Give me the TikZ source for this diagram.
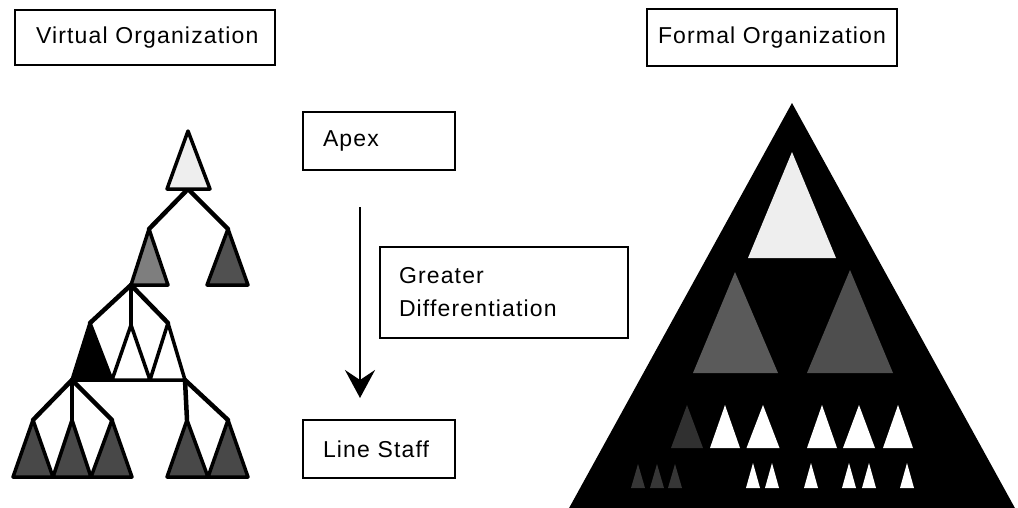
\documentclass[tikz,border=0pt]{standalone}
\usepackage{fontspec}
\setmainfont{Liberation Sans}[LetterSpace=5]
\usetikzlibrary{arrows.meta}
\definecolor{paleA}{HTML}{EEEEEE}
\definecolor{midA}{HTML}{7E7E7E}
\definecolor{darkA}{HTML}{505050}
\definecolor{darkB}{HTML}{484848}
\definecolor{darkC}{HTML}{5A5A5A}
\definecolor{darkD}{HTML}{4E4E4E}
\definecolor{dimA}{HTML}{303030}
\definecolor{dimB}{HTML}{363636}
\begin{document}
\begin{tikzpicture}[x=1pt,y=-1pt,
  lbl/.style={draw, line width=2.5pt, inner ysep=0pt, align=left,
              font=\fontsize{23}{33}\selectfont},
  branch/.style={line width=4.5pt, line cap=round, line join=round},
  tri/.style={draw, line width=3.5pt, line join=round},
  flow/.style={line width=2.5pt, -{Stealth[length=28pt,width=30pt,inset=10pt]}}]
\useasboundingbox (0,0) rectangle (1018,507);

% ---------- labels ----------
\node[lbl, minimum width=260pt, minimum height=55pt, inner xsep=21pt, text width=218pt]
  (virt) at (145,37.5) {Virtual Organization};
\node[lbl, minimum width=250pt, minimum height=57pt, inner xsep=8pt]
  (formal) at (772,37.5) {Formal Organization};
\node[lbl, minimum width=152pt, minimum height=58pt, inner xsep=20pt, text width=112pt]
  (apex) at (379,141) {Apex};
\node[lbl, minimum width=248pt, minimum height=91pt, inner xsep=19pt, text width=210pt]
  (diff) at (504,292.5) {Greater\\Differentiation};
\node[lbl, minimum width=152pt, minimum height=58pt, inner xsep=20pt, text width=112pt]
  (line) at (379,449) {Line Staff};

% ---------- downward arrow ----------
\coordinate (arrS) at (360,207);
\coordinate (arrE) at (360,398);
\draw[flow] (arrS) -- (arrE);

% ---------- virtual organization tree ----------
\coordinate (j0) at (188,189);
\coordinate (a2l) at (149,229);
\coordinate (a2r) at (228,229);
\coordinate (j1) at (131,285);
\coordinate (a3a) at (90,323);
\coordinate (a3b) at (131,325);
\coordinate (a3c) at (168,323);
\coordinate (j2) at (72,380);
\coordinate (j3) at (185,380);
\coordinate (a4a) at (33,420);
\coordinate (a4b) at (72,420);
\coordinate (a4c) at (112,420);
\coordinate (a4d) at (187,420);
\coordinate (a4e) at (228,420);

\draw[branch] (a2l) -- (j0) -- (a2r);
\draw[branch] (j1) -- (a3a);
\draw[branch] (j1) -- (a3b);
\draw[branch] (j1) -- (a3c);
\draw[branch] (j2) -- (a4a);
\draw[branch] (j2) -- (a4b);
\draw[branch] (j2) -- (a4c);
\draw[branch] (j3) -- (a4d);
\draw[branch] (j3) -- (a4e);

% top
\path[tri, fill=paleA] (188,131) -- (210,189) -- (167,189) -- cycle;
% second level
\path[tri, fill=midA]  (a2l) -- (168,285) -- (131,285) -- cycle;
\path[tri, fill=darkA] (a2r) -- (248,285) -- (207,285) -- cycle;
% third level
\path[tri, fill=black] (a3a) -- (112,380) -- (72,380) -- cycle;
\path[tri, fill=white] (a3b) -- (150,380) -- (112,380) -- cycle;
\path[tri, fill=white] (a3c) -- (185,380) -- (150,380) -- cycle;
% fourth level
\path[tri, fill=darkB] (a4a) -- (53,477) -- (13,477) -- cycle;
\path[tri, fill=darkB] (a4b) -- (91,477) -- (53,477) -- cycle;
\path[tri, fill=darkB] (a4c) -- (132,477) -- (91,477) -- cycle;
\path[tri, fill=darkB] (a4d) -- (208,477) -- (167,477) -- cycle;
\path[tri, fill=darkB] (a4e) -- (248,477) -- (208,477) -- cycle;

% ---------- formal organization pyramid ----------
\fill[black] (792,103) -- (1016,510) -- (568,510) -- cycle;
\fill[paleA] (792,152) -- (836,258) -- (748,258) -- cycle;
\fill[darkC] (735,272) -- (778,373) -- (693,373) -- cycle;
\fill[darkD] (850,270) -- (893,373) -- (807,373) -- cycle;
\fill[dimA] (687,405) -- (703,448) -- (671,448) -- cycle;
\foreach \ax/\hw in {725/15, 763/16.5, 822/15, 859/16, 898/15}
  \fill[white] (\ax,405) -- (\ax+\hw,448) -- (\ax-\hw,448) -- cycle;
\foreach \ax in {638, 657, 675}
  \fill[dimB] (\ax,464) -- (\ax+7,488) -- (\ax-7,488) -- cycle;
\foreach \ax in {753, 772, 811, 849, 869, 907}
  \fill[white] (\ax,463) -- (\ax+7,488) -- (\ax-7,488) -- cycle;
\end{tikzpicture}
\end{document}
